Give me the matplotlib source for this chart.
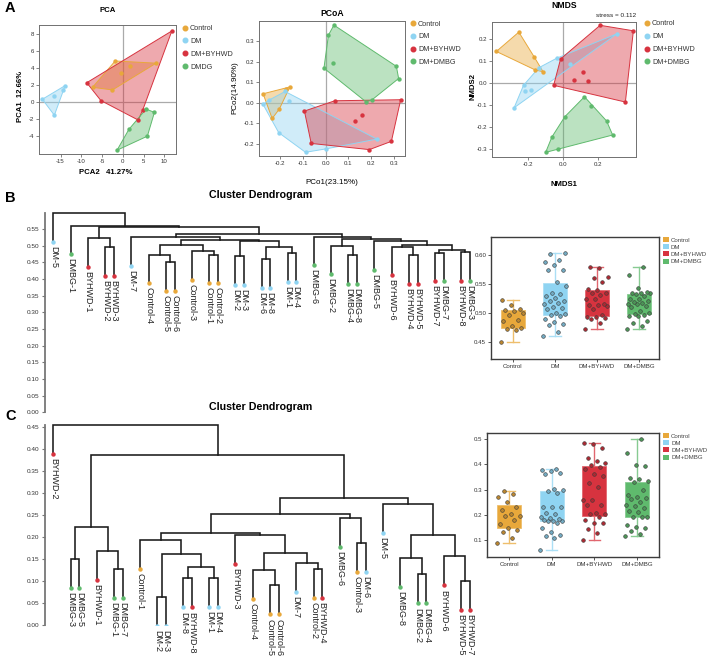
import numpy as np
import matplotlib
matplotlib.use("Agg")
import matplotlib.pyplot as plt
from matplotlib.lines import Line2D
from matplotlib.patches import Patch, Polygon
from matplotlib.colors import to_rgb

plt.rcParams["font.family"] = ["Liberation Sans", "DejaVu Sans"]
plt.rcParams["axes.unicode_minus"] = False

W, H = 708, 658
groups = ["Control", "DM", "DM+BYHWD", "DM+DMBG"]
colors = ["#E8A83B", "#8FD4F2", "#D7333F", "#5FBA6D"]

# ---- panel A: ordination scores (one list per group: Control, DM, DM+BYHWD, DM+DMBG)
pca_x = [[-1.85, 1.6, 8.0, -0.4, -7.3, -2.5],
         [-19.4, -16.5, -14.4, -13.9, -16.5],
         [11.8, -8.7, -5.3, 4.8, 3.7],
         [5.6, 7.6, 5.9, 1.45, -1.4]]
pca_y = [[4.86, 4.3, 4.6, 3.4, 1.76, 1.45],
         [0.35, 0.7, 1.45, 1.96, -1.53],
         [8.4, 2.3, 0.2, -0.9, -2.1],
         [-0.8, -1.2, -4.0, -3.2, -5.65]]

pcoa_x = [[-0.275, -0.157, -0.172, -0.204, -0.235],
          [-0.178, -0.249, -0.275, -0.162, -0.206, -0.088, 0.004, 0.226],
          [0.041, 0.331, -0.093, 0.159, 0.129, 0.29, 0.193, -0.063],
          [0.037, 0.013, 0.034, -0.007, 0.312, 0.322, 0.203, 0.178]]
pcoa_y = [[0.044, 0.077, 0.065, -0.031, -0.076],
          [0.055, 0.013, -0.008, 0.008, -0.145, -0.240, -0.223, -0.176],
          [0.010, 0.015, -0.040, -0.060, -0.087, -0.187, -0.227, -0.197],
          [0.377, 0.329, 0.195, 0.168, 0.177, 0.118, 0.013, 0.005]]

nmds_x = [[-0.381, -0.252, -0.162, -0.158, -0.113],
          [-0.137, -0.035, 0.042, 0.313, -0.225, -0.215, -0.183, -0.279],
          [0.215, 0.406, -0.012, 0.119, 0.063, 0.148, -0.052, 0.36],
          [0.125, 0.163, 0.012, 0.252, 0.287, -0.062, -0.029, -0.098]]
nmds_y = [[0.145, 0.233, 0.118, 0.061, 0.053],
          [0.071, 0.114, 0.088, 0.226, -0.009, -0.036, -0.030, -0.111],
          [0.264, 0.239, 0.111, 0.052, 0.014, 0.009, -0.009, -0.085],
          [-0.061, -0.102, -0.152, -0.171, -0.235, -0.244, -0.298, -0.314]]

# ---- panel B / C: hierarchical clustering trees (height, left, right)
tree_b = (0.598, "DM-5",
          (0.560, "DMBG-1",
           (0.555,
            (0.523, "BYHWD-1", (0.495, "BYHWD-2", "BYHWD-3")),
            (0.535,
             (0.526, "DM-7",
              (0.517,
               (0.501,
                (0.473, "Control-4", (0.450, "Control-5", "Control-6")),
                (0.483, "Control-3", (0.473, "Control-1", "Control-2"))),
               (0.513,
                (0.468, "DM-2", "DM-3"),
                (0.497, (0.460, "DM-6", "DM-8"), (0.477, "DM-1", "DM-4"))))),
             (0.527, "DMBG-6",
              (0.519,
               (0.500, "DMBG-2", (0.472, "DMBG-4", "DMBG-8")),
               (0.513, "DMBG-5",
                (0.502,
                 (0.497, "BYHWD-6", (0.472, "BYHWD-4", "BYHWD-5")),
                 (0.487, (0.479, "BYHWD-7", "DMBG-7"),
                  (0.481, "BYHWD-8", "DMBG-3"))))))))))

tree_c = (0.455, "BYHWD-2",
          (0.386,
           (0.222,
            (0.150, "DMBG-3", "DMBG-5"),
            (0.168, "BYHWD-1", (0.127, "DMBG-1", "DMBG-7"))),
           (0.288,
            (0.253,
             (0.209,
              (0.194, "Control-1",
               (0.162, (0.063, "DM-2", "DM-3"),
                (0.131, (0.106, "DM-8", "BYHWD-8"), (0.108, "DM-1", "DM-4")))),
              (0.205, "BYHWD-3",
               (0.164,
                (0.125, "Control-4", (0.090, "Control-5", "Control-6")),
                (0.142, "DM-7", (0.128, "Control-2", "BYHWD-4"))))),
             (0.243, "DMBG-6", (0.186, "Control-3", "DM-6"))),
            (0.275, "DM-5",
             (0.205,
              (0.153, "DMBG-8", (0.115, "DMBG-2", "DMBG-4")),
              (0.156, "BYHWD-6", (0.100, "BYHWD-5", "BYHWD-7")))))))

# ---- box plots: per-sample values
box_b = [[0.450, 0.471, 0.473, 0.474, 0.478, 0.487, 0.488, 0.497, 0.501, 0.504,
          0.506, 0.507, 0.514, 0.522],
         [0.460, 0.468, 0.480, 0.481, 0.485, 0.490, 0.495, 0.497, 0.499, 0.500,
          0.507, 0.508, 0.511, 0.515, 0.518, 0.521, 0.521, 0.526, 0.530, 0.533,
          0.534, 0.546, 0.553, 0.574, 0.574, 0.582, 0.588, 0.591, 0.602, 0.603],
         [0.473, 0.483, 0.490, 0.491, 0.493, 0.494, 0.496, 0.507, 0.513, 0.514,
          0.514, 0.515, 0.524, 0.524, 0.531, 0.534, 0.535, 0.539, 0.541, 0.554,
          0.561, 0.563, 0.577, 0.579],
         [0.473, 0.478, 0.483, 0.486, 0.495, 0.495, 0.497, 0.498, 0.501, 0.504,
          0.510, 0.513, 0.515, 0.515, 0.518, 0.519, 0.521, 0.524, 0.524, 0.530,
          0.533, 0.534, 0.534, 0.535, 0.537, 0.544, 0.566, 0.580]]
box_c = [[0.089, 0.110, 0.133, 0.141, 0.149, 0.163, 0.178, 0.196, 0.196, 0.203,
          0.220, 0.232, 0.252, 0.272, 0.283, 0.296],
         [0.062, 0.107, 0.117, 0.121, 0.132, 0.146, 0.167, 0.176, 0.176, 0.176,
          0.180, 0.183, 0.187, 0.191, 0.203, 0.207, 0.230, 0.230, 0.230, 0.288,
          0.295, 0.299, 0.303, 0.360, 0.364, 0.372, 0.378, 0.380],
         [0.100, 0.130, 0.145, 0.167, 0.167, 0.178, 0.191, 0.203, 0.203, 0.207,
          0.237, 0.239, 0.257, 0.259, 0.309, 0.325, 0.355, 0.361, 0.380, 0.388,
          0.397, 0.404, 0.415, 0.426, 0.463, 0.479, 0.483],
         [0.115, 0.125, 0.134, 0.147, 0.151, 0.161, 0.193, 0.193, 0.193, 0.213,
          0.217, 0.226, 0.233, 0.239, 0.249, 0.262, 0.266, 0.270, 0.279, 0.299,
          0.328, 0.332, 0.342, 0.345, 0.393, 0.397, 0.443, 0.500]]


fig = plt.figure(figsize=(W / 100, H / 100), dpi=100)


def rect(left, top, right, bottom):
    return [left / W, 1 - bottom / H, (right - left) / W, (bottom - top) / H]


def ftext(x, y, s, **kw):
    fig.text(x / W, 1 - y / H, s, **kw)


def mix(c, other, t):
    a, b = np.array(to_rgb(c)), np.array(to_rgb(other))
    return tuple(a * (1 - t) + b * t)


def hull(xs, ys):
    pts = sorted(set(zip(xs, ys)))

    def cross(o, a, b):
        return (a[0] - o[0]) * (b[1] - o[1]) - (a[1] - o[1]) * (b[0] - o[0])
    lower, upper = [], []
    for p in pts:
        while len(lower) >= 2 and cross(lower[-2], lower[-1], p) <= 0:
            lower.pop()
        lower.append(p)
    for p in reversed(pts):
        while len(upper) >= 2 and cross(upper[-2], upper[-1], p) <= 0:
            upper.pop()
        upper.append(p)
    return lower[:-1] + upper[:-1]


def ordination(r, xs, ys, labels, xlim, ylim, xticks, yticks, leg_anchor):
    ax = fig.add_axes(r)
    ax.axhline(0, color="#aaaaaa", lw=0.9, zorder=0)
    ax.axvline(0, color="#aaaaaa", lw=0.9, zorder=0)
    for gx, gy, c in zip(xs, ys, colors):
        poly = hull(gx, gy)
        ax.add_patch(Polygon(poly, closed=True, facecolor=c, alpha=0.42,
                             edgecolor="none", zorder=1))
        ax.add_patch(Polygon(poly, closed=True, fill=False, edgecolor=c,
                             lw=0.7, zorder=2))
        ax.scatter(gx, gy, s=10, color=c, linewidths=0, zorder=3)
    ax.set_xlim(xlim)
    ax.set_ylim(ylim)
    ax.set_xticks(xticks)
    ax.set_yticks(yticks)
    for sp in ax.spines.values():
        sp.set_color("#707070")
        sp.set_linewidth(0.7)
    ax.tick_params(length=2, width=0.6, color="#707070", labelsize=4.4,
                   pad=1.5, labelcolor="#333333")
    handles = [Line2D([], [], marker="o", ls="none", color=c, markersize=3.3)
               for c in colors]
    ax.legend(handles, labels, loc="upper left", bbox_to_anchor=leg_anchor,
              frameon=False, fontsize=5.2, handlelength=0.8,
              handletextpad=0.3, labelspacing=0.8, borderpad=0,
              borderaxespad=0, labelcolor="#333333")
    return ax


# ---------------- panel A
ordination(rect(39, 25, 176, 154), pca_x, pca_y,
           ["Control", "DM", "DM+BYHWD", "DMDG"],
           (-20.2, 12.8), (-6.1, 9.1), [-15, -10, -5, 0, 5, 10],
           [-4, -2, 0, 2, 4, 6, 8], (1.044, 1.0))
ordination(rect(259, 21, 405, 156), pcoa_x, pcoa_y, groups,
           (-0.293, 0.35), (-0.258, 0.397), [-0.2, -0.1, 0.0, 0.1, 0.2, 0.3],
           [-0.2, -0.1, 0.0, 0.1, 0.2, 0.3], (1.034, 1.004))
ax_n = ordination(rect(492, 22, 636, 157), nmds_x, nmds_y, groups,
                  (-0.406, 0.421), (-0.335, 0.279), [-0.2, 0.0, 0.2],
                  [-0.3, -0.2, -0.1, 0.0, 0.1, 0.2], (1.056, 1.012))
ax_n.text(1.0, 1.03, "stress = 0.112", transform=ax_n.transAxes, ha="right",
          va="bottom", fontsize=4.6, color="#222222")

ftext(107.5, 11, "PCA", ha="center", va="center", fontsize=5.6, weight="bold")
ftext(332, 14, "PCoA", ha="center", va="center", fontsize=6.2, weight="bold")
ftext(564, 6, "NMDS", ha="center", va="center", fontsize=6.2, weight="bold")
ftext(106, 173, "PCA2   41.27%", ha="center", va="center", fontsize=5.6,
      weight="bold")
ftext(20, 96, "PCA1  12.66%", ha="center", va="center", fontsize=5.6,
      weight="bold", rotation=90)
ftext(332, 182, "PCo1(23.15%)", ha="center", va="center", fontsize=5.8)
ftext(235, 88, "PCo2(14.90%)", ha="center", va="center", fontsize=5.8,
      rotation=90)
ftext(564, 185, "NMDS1", ha="center", va="center", fontsize=5.6, weight="bold")
ftext(473, 87, "NMDS2", ha="center", va="center", fontsize=5.6, weight="bold",
      rotation=90)

for letter, (x, y) in zip("ABC", [(5, 8), (5, 198), (5, 416)]):
    ftext(x, y, letter, ha="left", va="center", fontsize=10.5, weight="bold")


# ---------------- dendrograms
def leaf_color(name):
    if name.startswith("Control"):
        return colors[0]
    if name.startswith("DM-"):
        return colors[1]
    if name.startswith("BYHWD"):
        return colors[2]
    return colors[3]


def leaf_order(node, out):
    if isinstance(node, str):
        out.append((node, 1.0))
        return
    h, a, b = node
    if isinstance(a, str) and isinstance(b, str):
        out.append((a, 1.0))
        out.append((b, 0.5))
        return
    leaf_order(a, out)
    leaf_order(b, out)


def draw_node(ax, node, xpos, hang):
    if isinstance(node, str):
        return xpos[node], None
    h, a, b = node
    xa, ya = draw_node(ax, a, xpos, hang)
    xb, yb = draw_node(ax, b, xpos, hang)
    ends = []
    for x, y, child in ((xa, ya, a), (xb, yb, b)):
        if y is None:
            y = h - hang
            ax.plot(x, y, "o", color=leaf_color(child), markersize=3.2,
                    markeredgewidth=0, zorder=4)
            ax.annotate(child, (x, y), xytext=(0, -3), textcoords="offset points",
                        rotation=-90, ha="center", va="top", fontsize=6.5,
                        color="#222222", annotation_clip=False)
        ends.append(y)
    ax.plot([xa, xa, xb, xb], [ends[0], h, h, ends[1]], color="#1a1a1a",
            lw=1.15, solid_joinstyle="miter", zorder=3)
    return (xa + xb) / 2, h


def dendrogram(r, tree, hang, ytop, yticks, title_y):
    ax = fig.add_axes(r)
    leaves = []
    leaf_order(tree, leaves)
    xpos, x = {}, 0.0
    for i, (name, gap) in enumerate(leaves):
        if i > 0:
            x += gap
        xpos[name] = x
    draw_node(ax, tree, xpos, hang)
    unit = (469.7 - 53.3) / x
    ax.set_xlim((45 - 53.3) / unit, (475 - 53.3) / unit)
    ax.set_ylim(0, ytop)
    ax.set_yticks(yticks)
    ax.set_yticklabels(["%.2f" % v for v in yticks])
    for s in ("top", "right", "bottom"):
        ax.spines[s].set_visible(False)
    ax.spines["left"].set_bounds(0, tree[0])
    ax.spines["left"].set_color("#777777")
    ax.spines["left"].set_linewidth(1.3)
    ax.set_xticks([])
    ax.tick_params(axis="y", length=2.5, width=0.8, color="#777777",
                   labelsize=4.6, pad=1.5, labelcolor="#333333")
    ax.patch.set_alpha(0)
    ftext(261, title_y, "Cluster Dendrogram", ha="center", va="center",
          fontsize=7.7, weight="bold")


dendrogram(rect(45, 200, 475, 412.3), tree_b, 0.086, (412.3 - 200) / 333.4,
           np.arange(0, 0.56, 0.05), 195)
dendrogram(rect(45, 418, 475, 625), tree_c, 0.066, (625 - 418) / 439.4,
           np.arange(0, 0.46, 0.05), 407)


# ---------------- box plots
def box_panel(r, data, ylim, yticks, fmt, xlim):
    ax = fig.add_axes(r)
    bp = ax.boxplot(data, positions=range(len(data)), widths=0.57,
                    whis=(0, 100), patch_artist=True, showfliers=False,
                    capwidths=0.27)
    for i, c in enumerate(colors):
        light = mix(c, "white", 0.25)
        bp["boxes"][i].set(facecolor=c, edgecolor=light, linewidth=0.6)
        bp["medians"][i].set(color=c, linewidth=0)
        for k in (2 * i, 2 * i + 1):
            bp["whiskers"][k].set(color=light, linewidth=1.0)
            bp["caps"][k].set(color=light, linewidth=1.0)
        vals = np.array(data[i])
        offs = ((np.arange(len(vals)) * 0.618034) % 1 - 0.5) * 0.55
        ax.scatter(i + offs, vals, s=7, facecolor=mix(c, "black", 0.2),
                   edgecolor="#3a3a3a", linewidths=0.4, zorder=3)
    ax.set_xlim(xlim)
    ax.set_ylim(ylim)
    ax.set_xticks(range(len(groups)))
    ax.set_xticklabels(groups)
    ax.set_yticks(yticks)
    ax.set_yticklabels([fmt % v for v in yticks])
    for sp in ax.spines.values():
        sp.set_color("#3c3c3c")
        sp.set_linewidth(1.0)
    ax.tick_params(length=2, width=0.6, labelsize=4.4, pad=1.5,
                   color="#3c3c3c", labelcolor="#333333")
    handles = [Patch(facecolor=c, edgecolor="none") for c in colors]
    ax.legend(handles, groups, loc="upper left", bbox_to_anchor=(1.024, 1.0),
              frameon=False, fontsize=4.4, handlelength=0.9, handleheight=0.9,
              handletextpad=0.4, labelspacing=0.25, borderpad=0,
              borderaxespad=0, labelcolor="#444444")


box_panel(rect(491, 237, 659, 359), box_b, (0.421, 0.631),
          [0.45, 0.50, 0.55, 0.60], "%.2f", (-0.52, 3.48))
box_panel(rect(487, 433, 659, 557), box_c, (0.033, 0.524),
          [0.1, 0.2, 0.3, 0.4, 0.5], "%.1f", (-0.52, 3.52))

fig.savefig("out.png", dpi=100)
